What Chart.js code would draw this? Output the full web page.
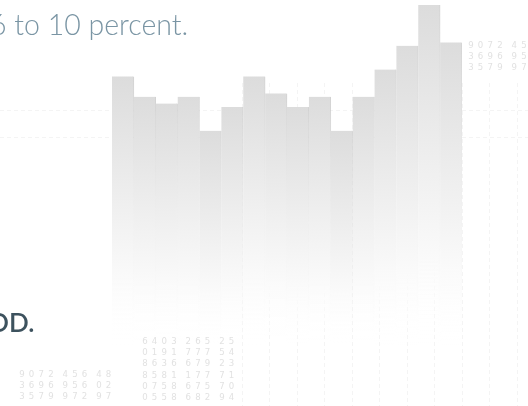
<!doctype html>
<html lang="en">
  <head>
    <meta charset="utf-8">
    <title>Percent bars</title>
    <script src="https://cdn.jsdelivr.net/npm/chart.js"></script>
    <style>
      html, body { margin: 0; padding: 0; background: #fff; }
      body { width: 528px; height: 406px; overflow: hidden; position: relative; }
      #wrap { position: absolute; left: 0; top: 0; width: 528px; height: 406px; }
      .lead { position: absolute; font-family: Lato, sans-serif; white-space: nowrap; line-height: 1; }
      #top-text { left: -10px; top: 10px; font-size: 28.5px; font-weight: 300; color: #7a95a4; }
      #bottom-text { left: -12px; top: 309px; font-size: 26px; font-weight: 600; color: #3d525e; }
      .digits { position: absolute; font-family: "DejaVu Sans Condensed", "Liberation Sans Narrow", sans-serif;
                font-size: 9.5px; color: #e2e2e2; line-height: 11.2px; white-space: nowrap; }
      .digits span { display: inline-block; width: 9.7px; text-align: center; }
      .digits span.gap { width: 4.6px; }
    </style>
  </head>
  <body>
    <div id="wrap"><canvas id="myChart"></canvas></div>
    <div class="lead" id="top-text">6 to 10 percent.</div>
    <div class="lead" id="bottom-text">OD.</div>
    <div class="digits" id="blockA" style="left:17px; top:368px;"></div>
    <div class="digits" id="blockB" style="left:140px; top:335px;"></div>
    <div class="digits" id="blockC" style="left:466px; top:39px;"></div>

    <script>
      // bar values (0-10 scale)
      const labels = ['1', '2', '3', '4', '5', '6', '7', '8', '9', '10', '11', '12', '13', '14', '15', '16'];
      const values = [7.9, 7.3, 7.1, 7.3, 6.3, 7.0, 7.9, 7.4, 7.0, 7.3, 6.3, 7.3, 8.1, 8.8, 10.0, 8.9];

      // decorative number columns
      const digitsA = ['9072 456 48', '3696 956 02', '3579 972 97'];
      const digitsB = ['6403 265 25', '0191 777 54', '8636 679 23', '8581 177 71', '0758 675 70', '0558 682 94'];
      const digitsC = ['9072 45', '3696 95', '3579 97'];

      function fillDigits(id, rows) {
        const el = document.getElementById(id);
        rows.forEach(row => {
          const line = document.createElement('div');
          for (const ch of row) {
            const s = document.createElement('span');
            if (ch === ' ') { s.className = 'gap'; s.innerHTML = '&nbsp;'; }
            else s.textContent = ch;
            line.appendChild(s);
          }
          el.appendChild(line);
        });
      }
      fillDigits('blockA', digitsA);
      fillDigits('blockB', digitsB);
      fillDigits('blockC', digitsC);

      // fade each bar from gray at its top to white at the base
      function barFill(ctx, top, bottom) {
        const chart = ctx.chart;
        if (!chart.chartArea) return top;
        const y = chart.scales.y;
        const yTop = y.getPixelForValue(ctx.raw);
        const yBase = y.getPixelForValue(0);
        const g = chart.ctx.createLinearGradient(0, yTop, 0, yBase);
        g.addColorStop(0, top);
        g.addColorStop(0.75, bottom);
        g.addColorStop(1, 'rgba(255,255,255,0)');
        return g;
      }

      // faint dashed background grid
      const bgGrid = {
        id: 'bgGrid',
        beforeDatasetsDraw(chart) {
          const c = chart.ctx;
          c.save();
          c.strokeStyle = 'rgba(0,0,0,0.045)';
          c.lineWidth = 1;
          c.setLineDash([4, 3]);
          [110, 137].forEach(y => {
            c.beginPath(); c.moveTo(0, y + 0.5); c.lineTo(528, y + 0.5); c.stroke();
          });
          for (let k = 0; k <= 10; k++) {
            const x = Math.round(242 + k * 27.45) + 0.5;
            c.beginPath(); c.moveTo(x, 83); c.lineTo(x, 406); c.stroke();
          }
          c.restore();
        }
      };

      const ctx = document.getElementById('myChart').getContext('2d');
      new Chart(ctx, {
        type: 'bar',
        data: {
          labels: labels,
          datasets: [{
            data: values,
            backgroundColor: c => barFill(c, 'rgb(220,220,220)', 'rgb(250,250,250)'),
            borderColor: c => barFill(c, 'rgba(190,190,190,0.7)', 'rgba(220,220,220,0.2)'),
            borderWidth: { top: 0, right: 1, bottom: 0, left: 0 },
            borderSkipped: 'bottom',
            barPercentage: 1,
            categoryPercentage: 1
          }]
        },
        options: {
          responsive: true,
          maintainAspectRatio: false,
          animation: false,
          layout: { padding: { left: 112, right: 66, top: 5, bottom: 61 } },
          plugins: { legend: { display: false }, tooltip: { enabled: false } },
          scales: {
            x: { display: false },
            y: { display: false, min: 0, max: 10 }
          }
        },
        plugins: [bgGrid]
      });
    </script>
  </body>
</html>
